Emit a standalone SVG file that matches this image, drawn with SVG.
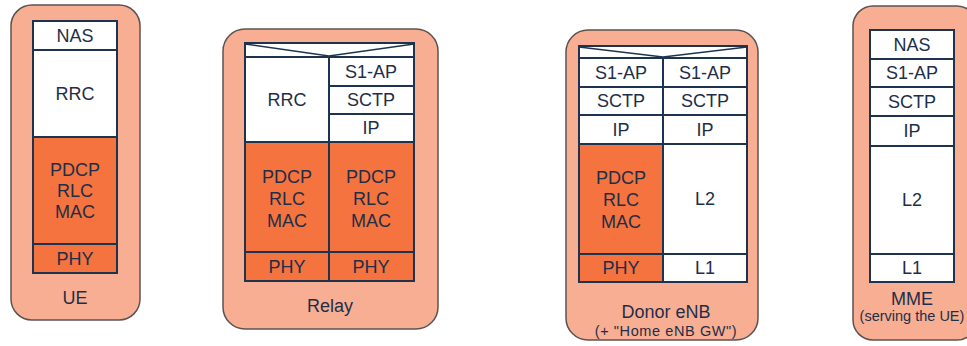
<svg xmlns="http://www.w3.org/2000/svg" width="967" height="346" viewBox="0 0 967 346">
<style>
.outer{fill:#F8AE92;stroke:#5c5350;stroke-width:1.5}
.w{fill:#ffffff;stroke:#1D3350;stroke-width:2}
.o{fill:#F4733F;stroke:#1D3350;stroke-width:2}
.hl{fill:none;stroke:#1D3350;stroke-width:1.5}
text{font-family:"Liberation Sans",Arial,sans-serif;fill:#1D2E48;text-anchor:middle;dominant-baseline:central}
.t{font-size:18px}
.s{font-size:14.5px}
.ls{letter-spacing:0.6px}
</style>
<rect width="967" height="346" fill="#ffffff"/>
<g id="ue">
<rect class="outer" x="11" y="5" width="129" height="315" rx="21"/>
<rect class="w" x="33" y="21" width="84" height="29"/>
<rect class="w" x="33" y="50" width="84" height="87"/>
<rect class="o" x="33" y="137" width="84" height="107"/>
<rect class="o" x="33" y="244" width="84" height="29"/>
<text class="t" x="75" y="36">NAS</text>
<text class="t" x="75" y="94">RRC</text>
<text class="t" x="75" y="170">PDCP</text>
<text class="t" x="75" y="191">RLC</text>
<text class="t" x="75" y="212">MAC</text>
<text class="t" x="75" y="259">PHY</text>
<text class="t" x="75" y="298">UE</text>
</g>
<g id="relay">
<rect class="outer" x="223" y="29" width="215" height="300" rx="22"/>
<rect class="w" x="245" y="43" width="169" height="14"/>
<polyline class="hl" points="245,44 329,56 414,44"/>
<rect class="w" x="245" y="57" width="84" height="85"/>
<rect class="w" x="329" y="57" width="85" height="29"/>
<rect class="w" x="329" y="86" width="85" height="28"/>
<rect class="w" x="329" y="114" width="85" height="28"/>
<rect class="o" x="245" y="142" width="84" height="110"/>
<rect class="o" x="329" y="142" width="85" height="110"/>
<rect class="o" x="245" y="252" width="84" height="29"/>
<rect class="o" x="329" y="252" width="85" height="29"/>
<text class="t" x="287" y="100">RRC</text>
<text class="t" x="371" y="72">S1-AP</text>
<text class="t" x="371" y="100">SCTP</text>
<text class="t" x="371" y="128">IP</text>
<text class="t" x="287" y="177">PDCP</text>
<text class="t" x="287" y="199">RLC</text>
<text class="t" x="287" y="221">MAC</text>
<text class="t" x="371" y="177">PDCP</text>
<text class="t" x="371" y="199">RLC</text>
<text class="t" x="371" y="221">MAC</text>
<text class="t" x="287" y="267">PHY</text>
<text class="t" x="371" y="267">PHY</text>
<text class="t" x="330" y="306">Relay</text>
</g>
<g id="donor">
<rect class="outer" x="566" y="30" width="192" height="310" rx="22"/>
<rect class="w" x="579" y="46" width="168" height="12"/>
<polyline class="hl" points="579,47 663,57 747,47"/>
<rect class="w" x="579" y="58" width="84" height="29"/>
<rect class="w" x="663" y="58" width="84" height="29"/>
<rect class="w" x="579" y="87" width="84" height="28"/>
<rect class="w" x="663" y="87" width="84" height="28"/>
<rect class="w" x="579" y="115" width="84" height="29"/>
<rect class="w" x="663" y="115" width="84" height="29"/>
<rect class="o" x="579" y="144" width="84" height="110"/>
<rect class="w" x="663" y="144" width="84" height="110"/>
<rect class="o" x="579" y="254" width="84" height="28"/>
<rect class="w" x="663" y="254" width="84" height="28"/>
<text class="t" x="621" y="73">S1-AP</text>
<text class="t" x="705" y="73">S1-AP</text>
<text class="t" x="621" y="101">SCTP</text>
<text class="t" x="705" y="101">SCTP</text>
<text class="t" x="621" y="130">IP</text>
<text class="t" x="705" y="130">IP</text>
<text class="t" x="621" y="178">PDCP</text>
<text class="t" x="621" y="200">RLC</text>
<text class="t" x="621" y="222">MAC</text>
<text class="t" x="705" y="199">L2</text>
<text class="t" x="621" y="268">PHY</text>
<text class="t" x="705" y="268">L1</text>
<text class="t" x="666" y="312">Donor eNB</text>
<text class="s ls" x="666" y="331">(+ "Home eNB GW")</text>
</g>
<g id="mme">
<rect class="outer" x="853" y="6" width="124" height="334" rx="20"/>
<rect class="w" x="870" y="30" width="84" height="29"/>
<rect class="w" x="870" y="59" width="84" height="28"/>
<rect class="w" x="870" y="87" width="84" height="29"/>
<rect class="w" x="870" y="116" width="84" height="30"/>
<rect class="w" x="870" y="146" width="84" height="108"/>
<rect class="w" x="870" y="254" width="84" height="28"/>
<text class="t" x="912" y="45">NAS</text>
<text class="t" x="912" y="73">S1-AP</text>
<text class="t" x="912" y="102">SCTP</text>
<text class="t" x="912" y="131">IP</text>
<text class="t" x="912" y="200">L2</text>
<text class="t" x="912" y="268">L1</text>
<text class="t" x="912" y="299">MME</text>
<text class="s" x="912" y="316">(serving the UE)</text>
</g>
<g id="connectors"></g>
</svg>
